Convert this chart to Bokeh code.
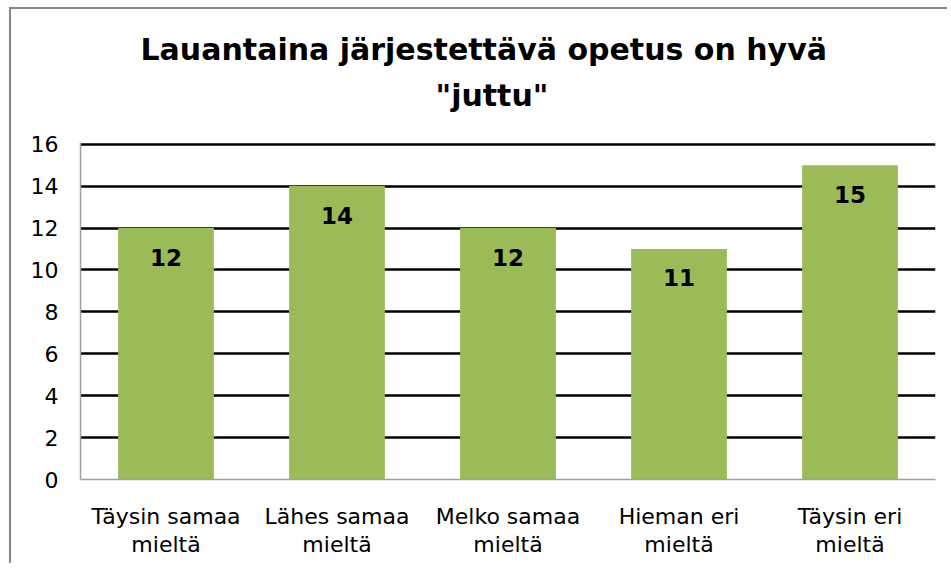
from bokeh.plotting import figure
from bokeh.models import ColumnDataSource, FixedTicker, Title
from bokeh.core.properties import value
from bokeh.embed import file_html
from bokeh.resources import INLINE

categories = ["Täysin samaa\nmieltä", "Lähes samaa\nmieltä", "Melko samaa\nmieltä",
              "Hieman eri\nmieltä", "Täysin eri\nmieltä"]
values = [12, 14, 12, 11, 15]
labels = [str(v) for v in values]
y_ticks = [0, 2, 4, 6, 8, 10, 12, 14, 16]
title_line1 = "Lauantaina järjestettävä opetus on hyvä"
title_line2 = "\"juttu\""

FONT = "DejaVu Sans"

src = ColumnDataSource(dict(cat=categories, val=values, lab=labels))

p = figure(x_range=categories, y_range=(0, 16.08), width=938, height=556, title=None,
           output_backend="svg", toolbar_location=None, tools="",
           min_border_left=69, min_border_right=14, min_border_top=133, min_border_bottom=86)
p.margin = (7, 0, 0, 9)

for txt, standoff, off in [(title_line2, 60, 355), (title_line1, -42, 60)]:
    t = Title(text=txt, align="left", text_font=FONT, text_font_size="30px",
              text_font_style="bold", text_color="black", standoff=standoff, offset=off)
    p.add_layout(t, "above")

p.vbar(x="cat", top="val", width=0.56, source=src, fill_color="#9BBB59", line_color=None)
p.text(x="cat", y="val", text="lab", source=src, text_align="center", text_baseline="middle",
       y_offset=29, text_font=value(FONT), text_font_size="23px", text_font_style="bold",
       text_color="black")

p.outline_line_color = None
p.xgrid.grid_line_color = None
p.ygrid.grid_line_color = "black"
p.ygrid.grid_line_width = 2.5
p.ygrid.ticker = FixedTicker(ticks=y_ticks)

p.yaxis.ticker = FixedTicker(ticks=y_ticks)
p.yaxis.axis_line_color = "#A0A0A0"
p.yaxis.axis_line_width = 1.5
p.yaxis.major_tick_line_color = None
p.yaxis.minor_tick_line_color = None
p.yaxis.major_label_text_font = FONT
p.yaxis.major_label_text_font_size = "22px"
p.yaxis.major_label_text_color = "black"
p.yaxis.major_label_standoff = 16

p.xaxis.axis_line_color = "#A0A0A0"
p.xaxis.axis_line_width = 1.5
p.xaxis.major_tick_line_color = None
p.xaxis.minor_tick_line_color = None
p.xaxis.major_label_text_font = FONT
p.xaxis.major_label_text_font_size = "22px"
p.xaxis.major_label_standoff = 18
p.xaxis.major_label_text_color = "black"
p.xaxis.major_label_text_line_height = 1.15

p.styles = {"border-left": "2px solid #868686", "border-top": "2px solid #868686",
            "border-right": "none", "border-bottom": "none", "outline": "none"}

open("out.html", "w").write(file_html(p, INLINE))
